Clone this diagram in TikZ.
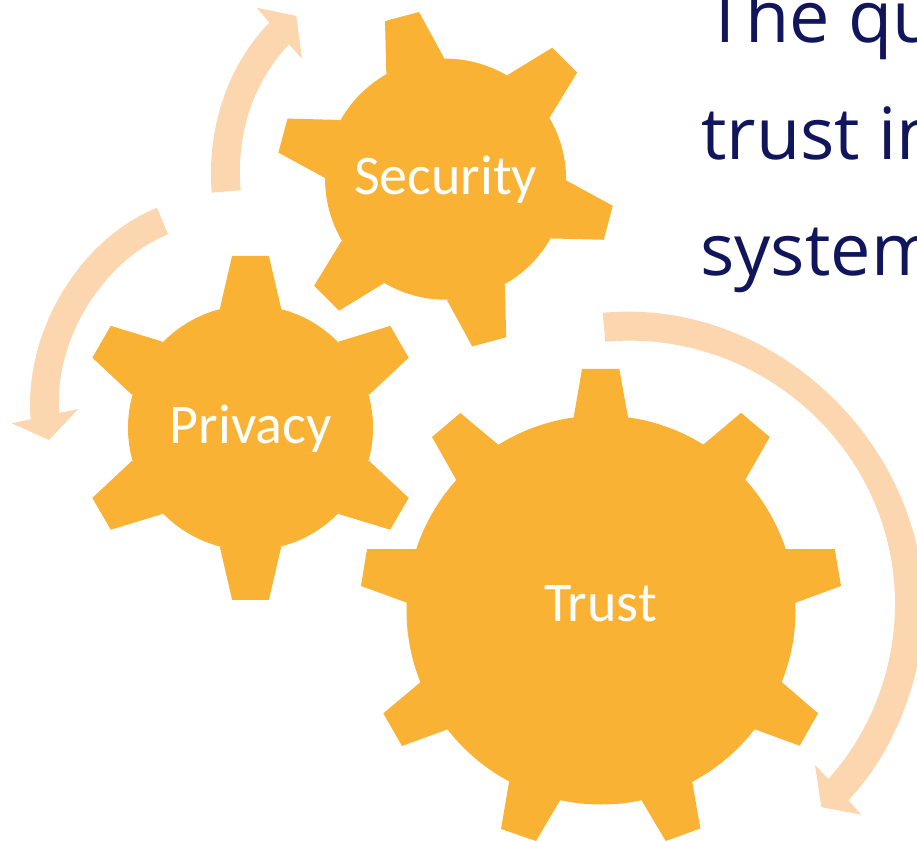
\documentclass[tikz,border=0pt]{standalone}
\usepackage{fontspec}
\setmainfont{Carlito}
\newfontfamily\sidefont{Open Sans}
\definecolor{gearcolor}{RGB}{249,178,52}
\definecolor{arrowcolor}{RGB}{252,214,175}
\definecolor{navytext}{RGB}{16,21,92}
\tikzset{
    hub/.style={circle, fill=gearcolor, inner sep=0pt, outer sep=0pt},
    tooth/.style={fill=gearcolor},
    sweep/.style={fill=arrowcolor},
    gearlabel/.style={anchor=base, text=white, inner sep=0pt, font=\fontsize{42}{42}\selectfont},
    sideline/.style={anchor=base west, text=navytext, inner sep=0pt, font=\sidefont\fontsize{54}{54}\selectfont}
}
\begin{document}
\begin{tikzpicture}[x=0.75pt, y=-0.75pt]
    \useasboundingbox (0,0) rectangle (917,841);
    % Place arrows
    \path [sweep] (211.7,192.7) .. controls (206.7,130.7) and (226.3,66.7) .. (269.3,22.7)
        -- (256.7,7.7) -- (296.3,16) -- (302,58.7) -- (289,44.3)
        .. controls (252,84) and (236,135) .. (240.7,190.3) -- cycle;
    \path [sweep] (157,207.7) .. controls (77,240.7) and (23.7,334) .. (30.7,419.3)
        -- (11.7,423.3) -- (49,440) -- (78.3,409) -- (59.3,413)
        .. controls (53.3,342) and (102,261) .. (168,234.3) -- cycle;
    \path [sweep] (602.7,312.8) .. controls (772,297) and (923.7,442) .. (923.7,607)
        .. controls (923.7,680) and (892,755) .. (848.3,800.3)
        -- (861.3,814.7) -- (821.3,807.2) -- (815,765) -- (828.3,778.9)
        .. controls (870,733) and (895,670) .. (895,603.6)
        .. controls (895,450) and (760,328) .. (605.3,341.7) -- cycle;
    % Security gear
    \node [hub, minimum size=180.75pt] (securityhub) at (445.6,179.2) {};
    \foreach \ang in {105,45,-15,-75,-135,165}
        \path [tooth, shift={(445.6,179.2)}, rotate=\ang-90] (-30,-117) -- (-17.6,-168.4) -- (17.6,-168.4) -- (30,-117) -- cycle;
    % Privacy gear
    \node [hub, minimum size=183.75pt] (privacyhub) at (250.5,427.8) {};
    \foreach \ang in {90,30,-30,-90,-150,150}
        \path [tooth, shift={(250.5,427.8)}, rotate=\ang-90] (-30.7,-119) -- (-18.4,-172) -- (18.4,-172) -- (30.7,-119) -- cycle;
    % Trust gear
    \node [hub, minimum size=291.75pt] (trusthub) at (601,610) {};
    \path [tooth] (573.7,417.3) -- (582,369) -- (619.3,369) -- (628,417.3) -- (trusthub.center) -- cycle;
    \path [tooth] (703.3,444.6) -- (741,412.8) -- (769.7,437) -- (745.3,479.7) -- (trusthub.center) -- cycle;
    \path [tooth] (785,549) -- (834.7,549) -- (841,586) -- (794.7,603) -- (trusthub.center) -- cycle;
    \path [tooth] (780.7,681.2) -- (818,713.3) -- (799.7,745.7) -- (753.3,728.8) -- (trusthub.center) -- cycle;
    \path [tooth] (692,780.2) -- (700.3,828.5) -- (665.7,841) -- (640.7,798.9) -- (trusthub.center) -- cycle;
    \path [tooth] (560.7,799.3) -- (536,841) -- (501,829) -- (509.3,780.3) -- (trusthub.center) -- cycle;
    \path [tooth] (448.3,729) -- (402,746) -- (383.3,713.3) -- (421,681.7) -- (trusthub.center) -- cycle;
    \path [tooth] (407,602.7) -- (361,586) -- (367,549) -- (416.7,549) -- (trusthub.center) -- cycle;
    \path [tooth] (456.3,480) -- (432,437) -- (460.3,413) -- (498.3,444.7) -- (trusthub.center) -- cycle;
    % Place labels
    \node [gearlabel] (security) at (445.6,195) {Security};
    \node [gearlabel] (privacy) at (250.5,443) {Privacy};
    \node [gearlabel] (trust) at (600.5,621) {Trust};
    \node [sideline] (lineone) at (705,43) {The qu};
    \node [sideline] (linetwo) at (701,160) {trust in};
    \node [sideline] (linethree) at (700,276) {system};
\end{tikzpicture}
\end{document}
